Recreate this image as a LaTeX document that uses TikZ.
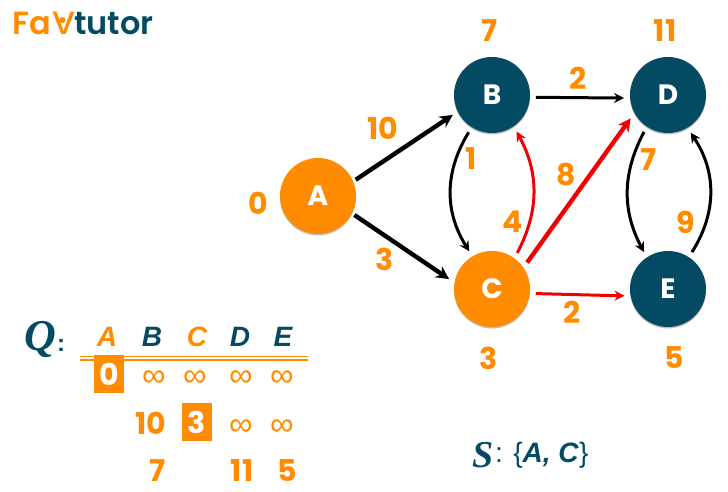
\documentclass[tikz,border=0pt]{standalone}
\usepackage{fontspec}
\setmainfont{Liberation Sans}
\newfontfamily\logofont{Poppins}[BoldFont=* SemiBold]
\newfontfamily\digitfont{Poppins}
\newfontfamily\swashfont{Liberation Serif}
\usetikzlibrary{positioning,arrows.meta,shadows}
\definecolor{navy}{HTML}{054A63}
\definecolor{amber}{HTML}{FF8C00}
\definecolor{hotred}{HTML}{F00000}
\tikzset{
  vert/.style={circle, fill=navy, text=white, minimum size=76pt, inner sep=0pt, outer sep=6pt,
               font=\fontsize{28}{28}\selectfont\digitfont\bfseries,
               drop shadow={shadow xshift=0pt, shadow yshift=-1.5pt, opacity=0.25, fill=black}},
  vdone/.style={vert, fill=amber},
  wlbl/.style={text=amber, inner sep=0pt, font=\fontsize{30}{30}\selectfont\digitfont\bfseries},
  qhead/.style={text=navy, inner sep=0pt, font=\fontsize{28}{28}\selectfont\bfseries\itshape},
  qdone/.style={qhead, text=amber},
  nolim/.style={text=amber, inner sep=0pt, font=\fontsize{33}{33}\selectfont},
  pick/.style={fill=amber, text=white, minimum width=30pt, minimum height=38pt, inner sep=0pt,
               font=\fontsize{30}{30}\selectfont\digitfont\bfseries},
  swash/.style={text=navy, inner sep=0pt, font=\swashfont\bfseries\itshape},
  edgeb/.style={-{Stealth[length=13pt,width=13pt]}, line width=4.4pt, draw=black},
  edgem/.style={-{Stealth[length=10pt,width=10pt]}, line width=3pt, draw=black},
  edger/.style={edgem, draw=hotred},
  edgeR/.style={edgeb, draw=hotred},
  qline/.style={draw=amber, line width=1.2pt},
  logotx/.style={inner sep=0pt, anchor=base west, font=\fontsize{32}{32}\selectfont\logofont\bfseries},
}
\begin{document}
\begin{tikzpicture}[x=1pt,y=1pt]
  \useasboundingbox (0,0) rectangle (728,492);
  % logo
  \node[logotx, text=amber] (logoa) at (12,457) {Fa};
  \node[logotx, text=amber, font=\fontsize{41}{41}\selectfont\logofont] (logov) at (52,457) {v};
  \node[circle, fill=amber, minimum size=6pt, inner sep=0pt] (logop) at (62.5,472) {};
  \node[logotx, text=navy] (logot) at (74,457) {tutor};
  % vertices
  \node[vdone] (A) at (318,296) {A};
  \node[vert] (B) at (492,397) {B};
  \node[vdone] (C) at (492,203) {C};
  \node[vert] (D) at (668,397) {D};
  \node[vert] (E) at (668,203) {E};
  % edges
  \draw[edgeb, shorten <=-3pt] (A.24) -- (B.207);
  \draw[edgeb, shorten <=-3pt] (A.-28) -- (C.167);
  \draw[edgem] (B.-3) -- (D.184);
  \draw[edger] (C.-6) -- (E.189);
  \draw[edgeR] (C.37) -- (D.212);
  \draw[edgem] (B.238) to[bend right=32] (C.121);
  \draw[edger] (C.55) to[bend right=28] (B.-56);
  \draw[edgem] (D.237) to[bend right=28] (E.123);
  \draw[edgem] (E.57) to[bend right=33] (D.-59);
  % weights and distances
  \node[wlbl] (dA) at (258,289) {0};
  \node[wlbl] (dB) at (490,461) {7};
  \node[wlbl] (dC) at (489,134) {3};
  \node[wlbl] (dD) at (665,461) {11};
  \node[wlbl] (dE) at (674,134) {5};
  \node[wlbl] (wAB) at (383,364) {10};
  \node[wlbl] (wAC) at (385,233) {3};
  \node[wlbl] (wBD) at (578,414) {2};
  \node[wlbl] (wBC) at (471,333) {1};
  \node[wlbl] (wCB) at (513,270) {4};
  \node[wlbl] (wCD) at (566,317) {8};
  \node[wlbl] (wCE) at (572,180) {2};
  \node[wlbl] (wDE) at (649,332) {7};
  \node[wlbl] (wED) at (686,270) {9};
  % queue
  \node[swash, font=\fontsize{44}{44}\selectfont\swashfont\bfseries\itshape] (qname) at (40,152) {Q};
  \node[swash, font=\fontsize{24}{24}\selectfont\bfseries] (qcolon) at (61,147) {:};
  \node[qdone] (qA) at (107,155) {A};
  \node[qhead] (qB) at (152,155) {B};
  \node[qdone] (qC) at (197,155) {C};
  \node[qhead] (qD) at (240,155) {D};
  \node[qhead] (qE) at (283,155) {E};
  \coordinate (ql) at (80,135.5);
  \coordinate (qr) at (308,135.5);
  \draw[qline] (ql) -- (qr);
  \draw[qline] ([yshift=-3.5pt]ql) -- ([yshift=-3.5pt]qr);
  \node[pick] (p0) at (109,118) {0};
  \node[nolim] (i1) at (154,113) {∞};
  \node[nolim] (i2) at (195,113) {∞};
  \node[nolim] (i3) at (241,113) {∞};
  \node[nolim] (i4) at (282,113) {∞};
  \node[wlbl] (r10) at (151,69) {10};
  \node[pick] (p3) at (197,70) {3};
  \node[nolim] (i5) at (241,64) {∞};
  \node[nolim] (i6) at (282,64) {∞};
  \node[wlbl] (r7) at (158,21) {7};
  \node[wlbl] (r11) at (242,21) {11};
  \node[wlbl] (r5) at (287,21) {5};
  % settled set
  \node[swash, font=\fontsize{38}{38}\selectfont\swashfont\bfseries\itshape] (sname) at (483,37) {S};
  \node[text=navy, inner sep=0pt, anchor=west, font=\fontsize{28}{28}\selectfont] (sset) at (495,37)
     {: \{\textbf{\textit{A, C}}\}};
\end{tikzpicture}
\end{document}
